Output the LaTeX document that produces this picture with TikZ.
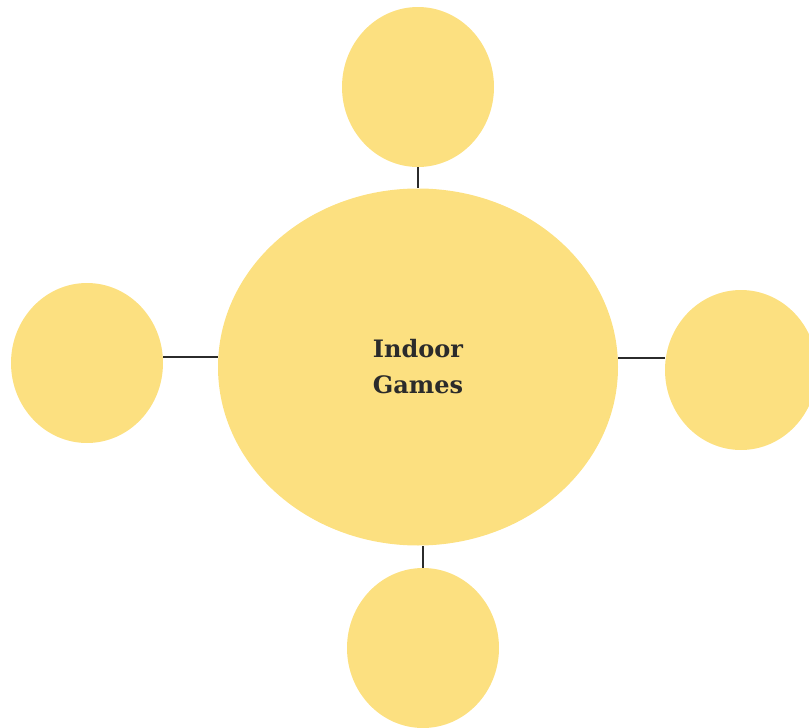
\documentclass[tikz,border=0pt]{standalone}
\usepackage{fontspec}
\setmainfont{DejaVu Serif}
\usetikzlibrary{shapes.geometric}

\definecolor{sunfill}{HTML}{FCE080}
\definecolor{inkline}{HTML}{2B2B2B}

\begin{document}
\begin{tikzpicture}[x=1pt, y=-1pt,
    hub/.style={ellipse, fill=sunfill, inner sep=0pt,
      minimum width=400pt, minimum height=357pt,
      font=\bfseries\fontsize{24}{36}\selectfont, text=inkline, align=center},
    spoke/.style={ellipse, fill=sunfill, inner sep=0pt,
      minimum width=152pt, minimum height=160pt},
    link/.style={draw=inkline, line width=2.4pt}]

  % Page size of the reference
  \useasboundingbox (0,0) rectangle (809,728);

  % Centre bubble
  \node[hub] (games) at (418,367) {Indoor\\Games};

  % Outer bubbles
  \node[spoke] (top)    at (418,87)  {};
  \node[spoke] (left)   at (87,363)  {};
  \node[spoke] (right)  at (741,370) {};
  \node[spoke] (bottom) at (423,648) {};

  % Short links between the bubbles
  \draw[link] (top.south) -- (games.north);
  \draw[link] ([yshift=6pt]left.east) -- ([yshift=10pt]games.west);
  \draw[link] ([yshift=9pt]games.east) -- ([yshift=12pt]right.west);
  \draw[link] (bottom.north) -- (bottom.north |- games.south);

\end{tikzpicture}
\end{document}
